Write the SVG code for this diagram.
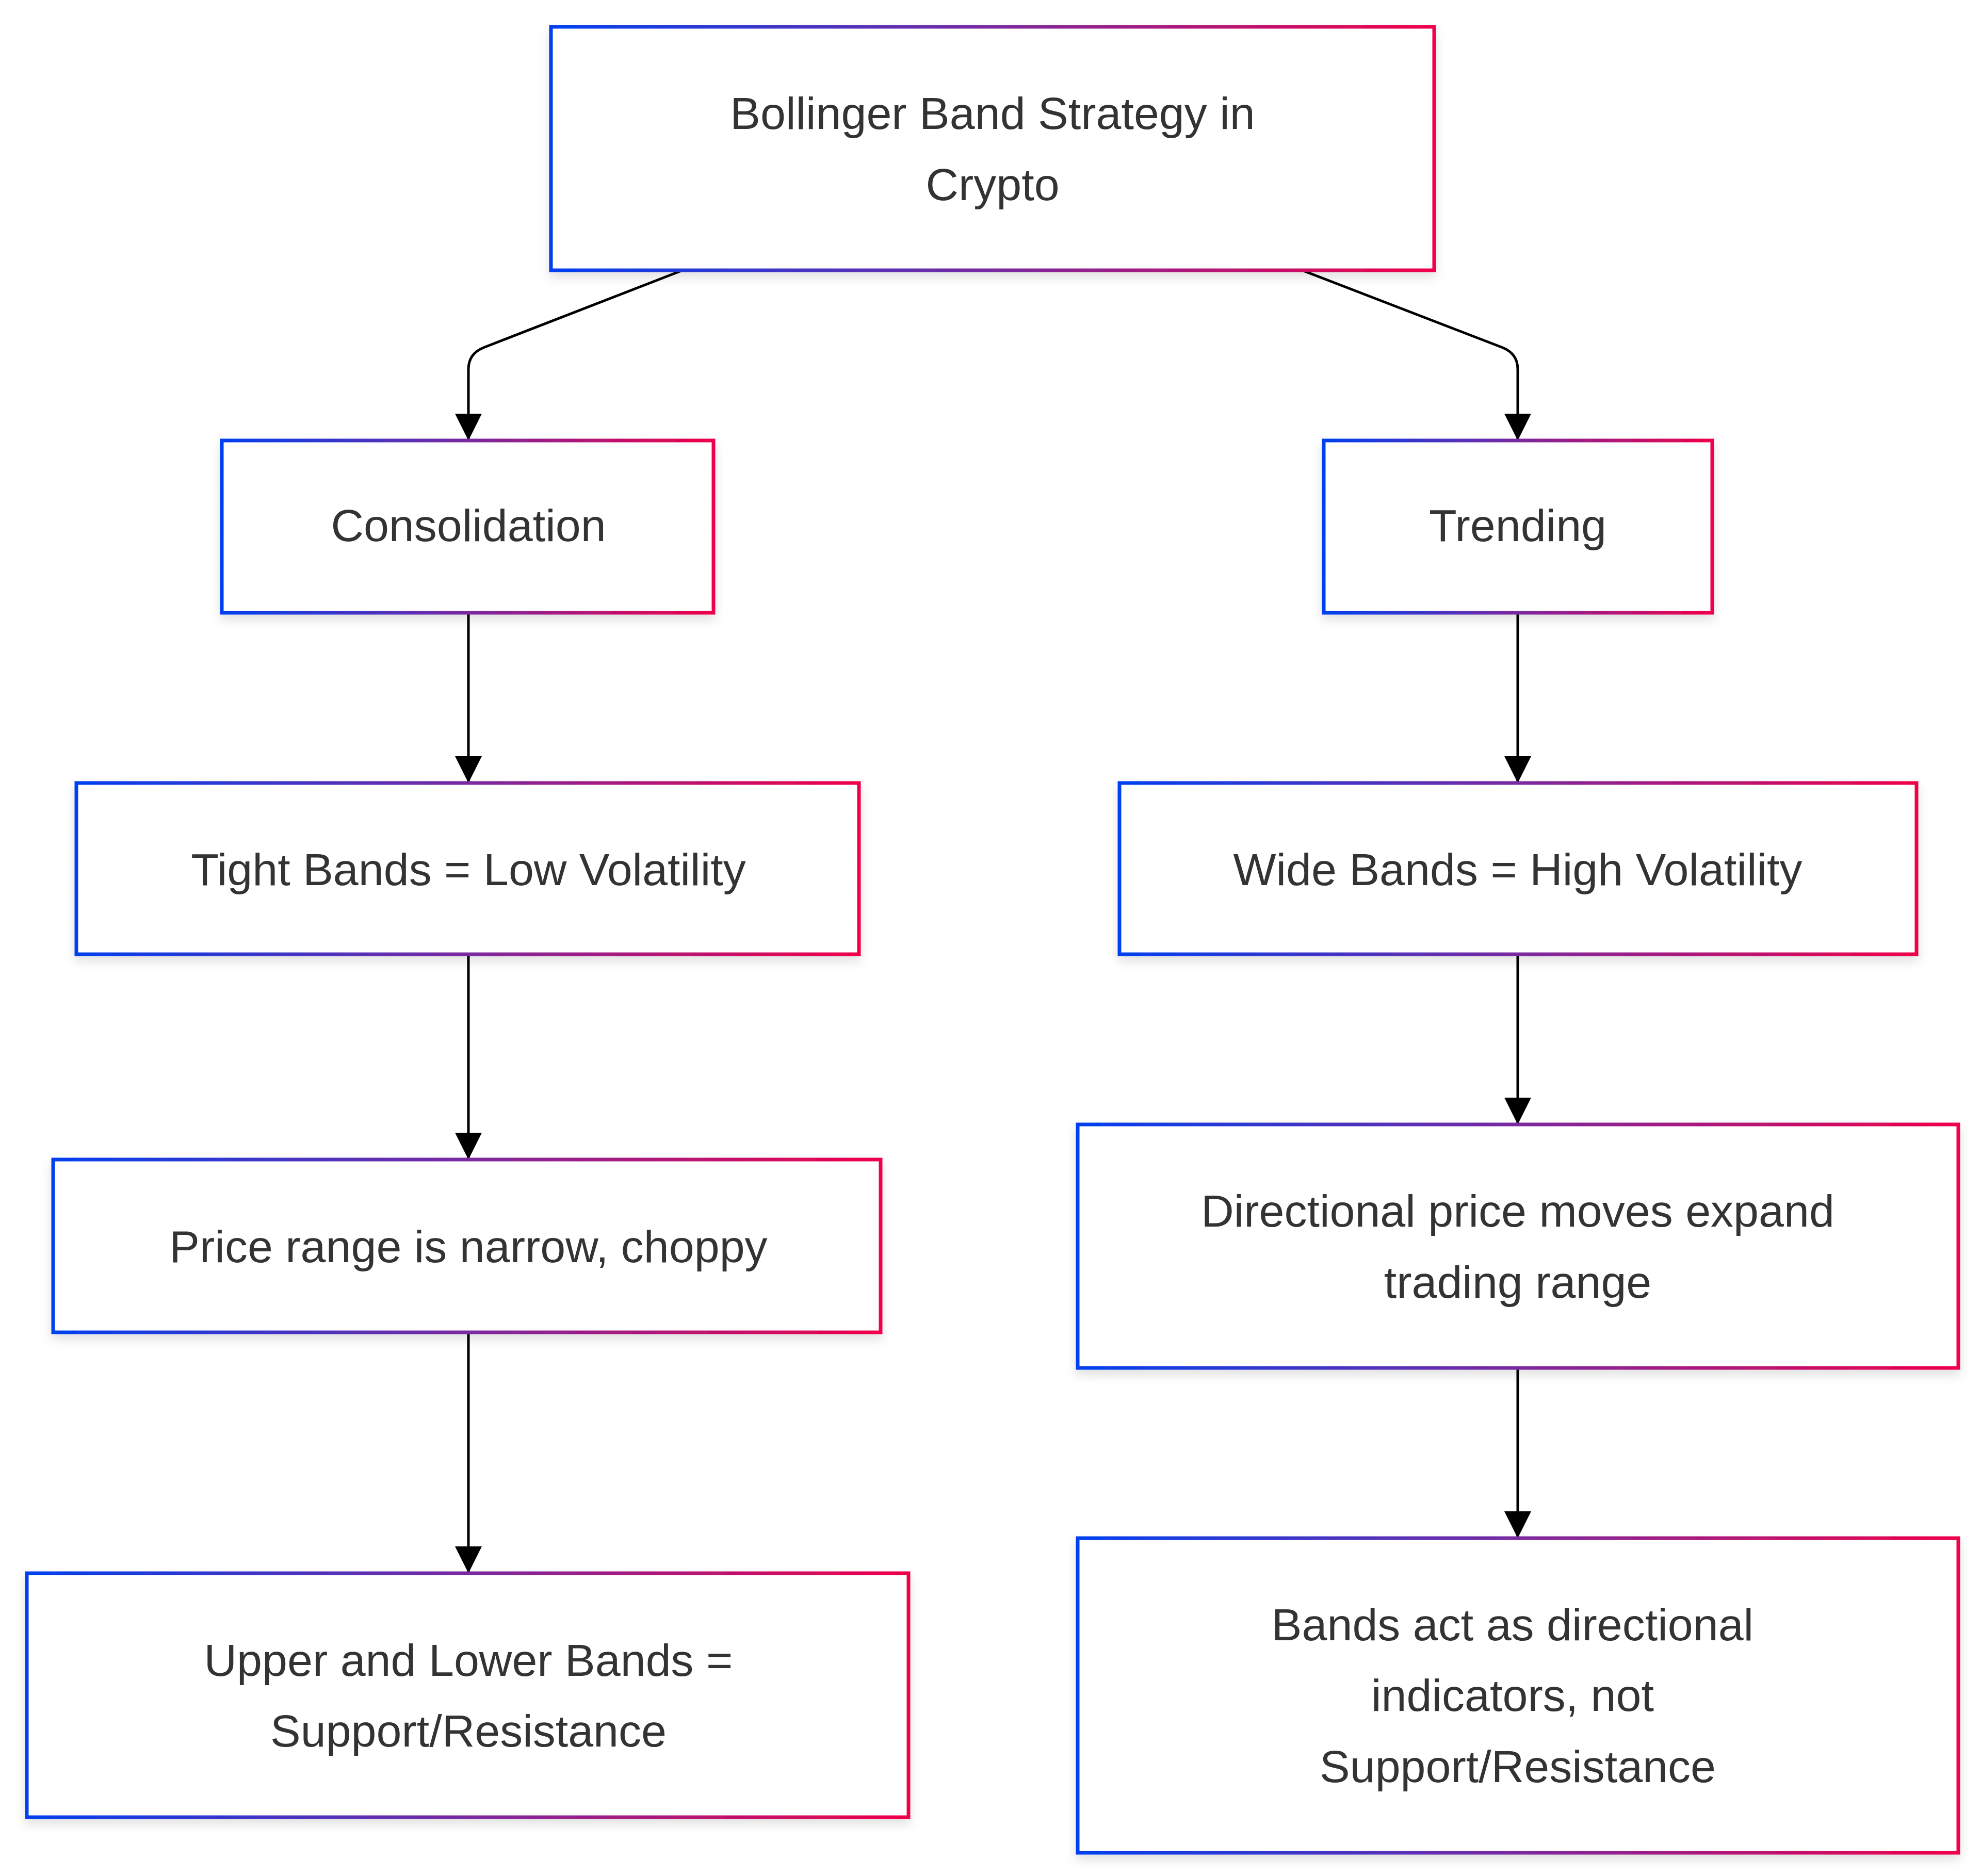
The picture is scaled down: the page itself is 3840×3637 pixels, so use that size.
<svg xmlns="http://www.w3.org/2000/svg" width="3840" height="3637" viewBox="0 0 3840 3637">
<defs>
<linearGradient id="g" x1="0" y1="0" x2="1" y2="0"><stop offset="0" stop-color="#0040f0"/><stop offset="0.5" stop-color="#7a2aa0"/><stop offset="1" stop-color="#f0004a"/></linearGradient>
<filter id="sh" x="-5%" y="-5%" width="110%" height="115%"><feDropShadow dx="0" dy="10" stdDeviation="10" flood-color="#000" flood-opacity="0.12"/></filter>
<marker id="ah" viewBox="0 0 10 10" refX="10" refY="5" markerWidth="10" markerHeight="10" markerUnits="userSpaceOnUse" orient="auto"><path d="M0,0 L10,5 L0,10 z" fill="#000"/></marker>
<marker id="a" viewBox="0 0 10 10" refX="10" refY="5" markerWidth="52" markerHeight="52" markerUnits="userSpaceOnUse" orient="auto"><path d="M0,0 L10,5 L0,10 z" fill="#000"/></marker>
</defs>
<style>
rect{fill:#fff;stroke:url(#g);stroke-width:7;filter:url(#sh)}
text{font-family:"Liberation Sans",Arial,sans-serif;font-size:88px;fill:#333;text-anchor:middle;dominant-baseline:central}
.c path{fill:none;stroke:#000;stroke-width:5;marker-end:url(#a)}
</style>
<rect x="-10" y="-10" width="3860" height="3660" style="fill:#fff;stroke:none;filter:none"/>
<g class="c" id="connectors">
<path d="M1323,524 L937,674 Q908,686 908,716 L908,854"/>
<path d="M2524,524 L2913,674 Q2942,686 2942,716 L2942,854"/>
<path d="M908,1188 L908,1518"/>
<path d="M2942,1188 L2942,1518"/>
<path d="M908,1850 L908,2248"/>
<path d="M2942,1850 L2942,2180"/>
<path d="M908,2583 L908,3050"/>
<path d="M2942,2652 L2942,2982"/>
</g>
<g id="root"><rect x="1068" y="52" width="1712" height="472"/><text x="1924" y="219">Bollinger Band Strategy in</text><text x="1924" y="357">Crypto</text></g>
<g id="consolidation"><rect x="430" y="854" width="953" height="334"/><text x="908" y="1018">Consolidation</text></g>
<g id="trending"><rect x="2566" y="854" width="753" height="334"/><text x="2942" y="1018">Trending</text></g>
<g id="tight"><rect x="148" y="1518" width="1517" height="332"/><text x="908" y="1685">Tight Bands = Low Volatility</text></g>
<g id="wide"><rect x="2170" y="1518" width="1545" height="332"/><text x="2942" y="1685">Wide Bands = High Volatility</text></g>
<g id="price"><rect x="103" y="2248" width="1604" height="335"/><text x="908" y="2416">Price range is narrow, choppy</text></g>
<g id="directional"><rect x="2089" y="2180" width="1707" height="472"/><text x="2942" y="2347">Directional price moves expand</text><text x="2942" y="2485">trading range</text></g>
<g id="upper"><rect x="52" y="3050" width="1709" height="473"/><text x="908" y="3218">Upper and Lower Bands =</text><text x="908" y="3355">Support/Resistance</text></g>
<g id="bandsact"><rect x="2089" y="2982" width="1707" height="610"/><text x="2932" y="3149">Bands act as directional</text><text x="2932" y="3286">indicators, not</text><text x="2942" y="3424">Support/Resistance</text></g>
</svg>
